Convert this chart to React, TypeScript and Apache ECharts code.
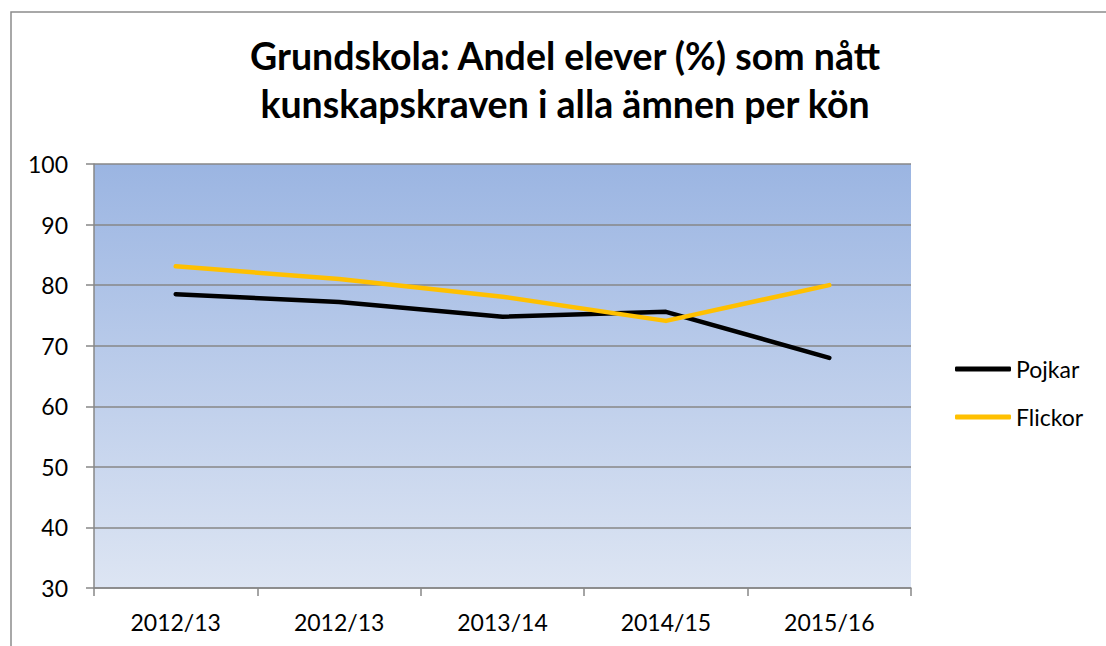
import React, { useEffect, useRef } from "react";
import * as echarts from "echarts";

const categories = ["2012/13", "2012/13", "2013/14", "2014/15", "2015/16"];
const pojkar = [78.5, 77.2, 74.8, 75.6, 68.0];
const flickor = [83.1, 81.0, 78.1, 74.1, 80.0];
const seriesNames = ["Pojkar", "Flickor"];
const titleText = "Grundskola: Andel elever (%) som nått\nkunskapskraven i alla ämnen per kön";

const FONT = "Lato";

export default function App() {
  const ref = useRef<HTMLDivElement>(null);
  useEffect(() => {
    const chart = echarts.init(ref.current!, null, { renderer: "svg" });
    chart.setOption({
      animation: false,
      backgroundColor: "#ffffff",
      title: {
        text: titleText,
        left: 560,
        textAlign: "center",
        top: 26,
        textStyle: {
          fontFamily: FONT,
          fontWeight: "bold",
          fontSize: 37.5,
          lineHeight: 48,
          color: "#000000",
        },
      },
      graphic: [
        {
          type: "rect",
          shape: { x: 11, y: 12, width: 1200, height: 800 },
          style: { fill: "none", stroke: "#8c8c8c", lineWidth: 1.5 },
          silent: true,
          z: 100,
        },
      ],
      legend: {
        orient: "vertical",
        left: 950,
        top: 352,
        icon: "roundRect",
        itemWidth: 56,
        itemHeight: 5,
        itemGap: 24,
        data: seriesNames,
        textStyle: { fontFamily: FONT, fontSize: 23, color: "#000", lineHeight: 24 },
      },
      grid: {
        left: 94,
        right: 195,
        top: 164,
        bottom: 58,
        show: true,
        borderWidth: 0,
        backgroundColor: new echarts.graphic.LinearGradient(0, 0, 0, 1, [
          { offset: 0, color: "#9bb5e2" },
          { offset: 1, color: "#dde5f3" },
        ]),
      },
      xAxis: {
        type: "category",
        data: categories,
        boundaryGap: true,
        axisLine: { show: true, lineStyle: { color: "#878787", width: 1.5 } },
        axisTick: { show: true, length: 8, lineStyle: { color: "#878787", width: 1.5 } },
        axisLabel: { fontFamily: FONT, fontSize: 23, color: "#000", margin: 22 },
        splitLine: { show: false },
      },
      yAxis: {
        type: "value",
        min: 30,
        max: 100,
        interval: 10,
        axisLine: { show: true, lineStyle: { color: "#878787", width: 1.5 } },
        axisTick: { show: true, length: 8, lineStyle: { color: "#878787", width: 1.5 } },
        axisLabel: { fontFamily: FONT, fontSize: 23, color: "#000", margin: 26 },
        splitLine: { show: true, lineStyle: { color: "#878787", width: 1.5 } },
      },
      series: [
        {
          name: seriesNames[0],
          type: "line",
          data: pojkar,
          symbol: "none",
          color: "#000000",
          lineStyle: { color: "#000000", width: 4.5, cap: "round", join: "round" },
        },
        {
          name: seriesNames[1],
          type: "line",
          data: flickor,
          symbol: "none",
          color: "#ffc000",
          lineStyle: { color: "#ffc000", width: 4.5, cap: "round", join: "round" },
        },
      ],
    });
    return () => chart.dispose();
  }, []);
  return <div ref={ref} style={{ width: 1106, height: 646, position: "absolute", left: 0, top: 0 }} />;
}
